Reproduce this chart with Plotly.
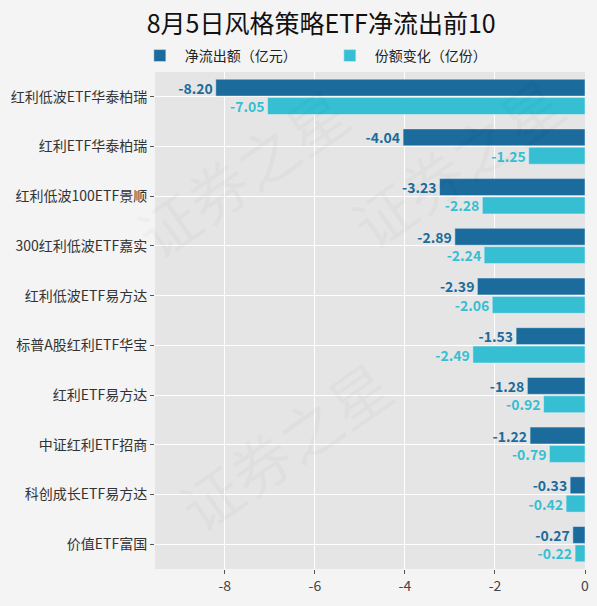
import plotly.graph_objects as go

# data
funds = ['红利低波ETF华泰柏瑞', '红利ETF华泰柏瑞', '红利低波100ETF景顺', '300红利低波ETF嘉实',
         '红利低波ETF易方达', '标普A股红利ETF华宝', '红利ETF易方达', '中证红利ETF招商',
         '科创成长ETF易方达', '价值ETF富国']
net_outflow = [-8.20, -4.04, -3.23, -2.89, -2.39, -1.53, -1.28, -1.22, -0.33, -0.27]
share_change = [-7.05, -1.25, -2.28, -2.24, -2.06, -2.49, -0.92, -0.79, -0.42, -0.22]
x_ticks = [-8, -6, -4, -2, 0]
x_tick_text = ['-8', '-6', '-4', '-2', '0']

dark = '#1b6b9c'
light = '#36bfd3'
font = 'Noto Sans CJK SC'

# horizontal grouped bars stack bottom-up, so the share trace goes first
trace_share = go.Bar(y=funds, x=share_change, orientation='h', name='份额变化（亿份）',
                     marker_color=light, text=['%.2f' % v for v in share_change],
                     textposition='outside', cliponaxis=False, constraintext='none',
                     textfont=dict(color=light, size=14, family=font, weight='bold'))
trace_flow = go.Bar(y=funds, x=net_outflow, orientation='h', name='净流出额（亿元）',
                    marker_color=dark, text=['%.2f' % v for v in net_outflow],
                    textposition='outside', cliponaxis=False, constraintext='none',
                    textfont=dict(color=dark, size=14, family=font, weight='bold'))

fig = go.Figure(data=[trace_share, trace_flow])

# faint watermark
for ax, ay in [(0.2, 0.8), (0.7, 0.82), (0.3, 0.25)]:
    fig.add_annotation(text='证券之星', xref='paper', yref='paper', x=ax, y=ay,
                       xanchor='center', yanchor='middle', showarrow=False, textangle=-35,
                       font=dict(size=60, color='rgba(0,0,0,0.025)', family=font))

fig.update_layout(
    width=597, height=606,
    title=dict(text='8月5日风格策略ETF净流出前10', x=0.538, xanchor='center', y=0.975,
               font=dict(size=25, color='#111', family=font)),
    barmode='group', bargap=0.26, bargroupgap=0.08,
    paper_bgcolor='#f4f4f4', plot_bgcolor='#e5e5e5',
    margin=dict(l=155, r=8, t=72, b=37),
    font=dict(family=font, size=14, color='#444'),
    legend=dict(orientation='h', x=0.395, xanchor='center', y=1.0, yanchor='bottom',
                font=dict(size=14, color='#222'), bgcolor='rgba(0,0,0,0)',
                traceorder='reversed', entrywidth=135, itemwidth=40),
    xaxis=dict(range=[-9.55, 0], tickvals=x_ticks, ticktext=x_tick_text,
               gridcolor='white', zeroline=False,
               ticks='outside', ticklen=4, tickcolor='#555',
               tickfont=dict(size=14, color='#444')),
    yaxis=dict(categoryorder='array', categoryarray=funds[::-1], gridcolor='white',
               ticks='outside', ticklen=4, tickcolor='#555',
               tickfont=dict(size=14, color='#333')),
)

fig.write_html('out.html', config={'displayModeBar': False},
               post_script="document.body.style.margin='0';document.body.style.overflow='hidden';")
